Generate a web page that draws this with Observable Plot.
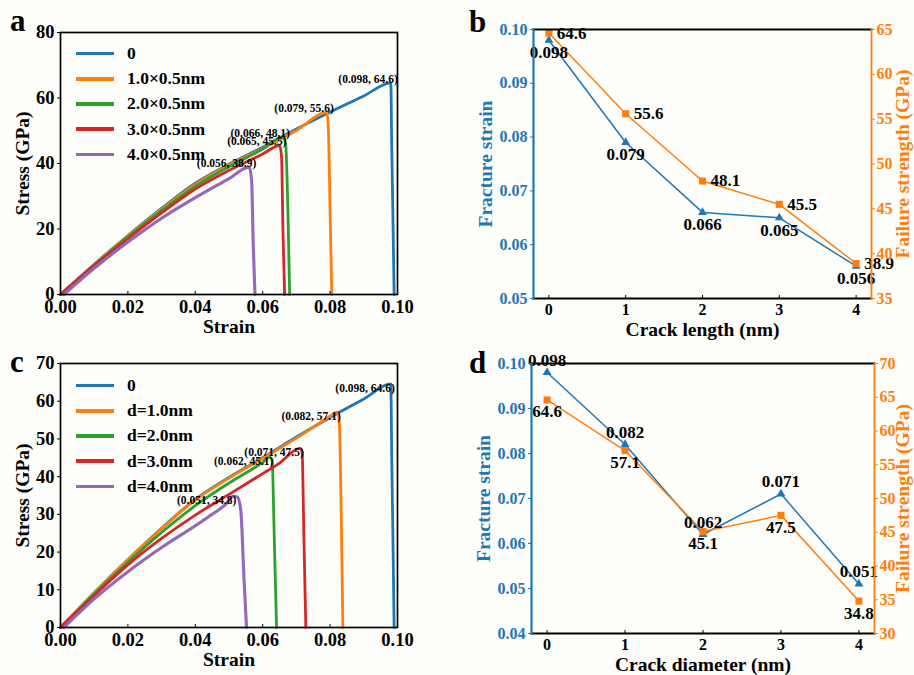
<!DOCTYPE html>
<html>
<head>
<meta charset="utf-8">
<script src="https://cdn.jsdelivr.net/npm/d3@7"></script>
<script src="https://cdn.jsdelivr.net/npm/@observablehq/plot@0.6"></script>
<style>
  html, body { margin: 0; padding: 0; background: #fdfdf9; }
  #fig { position: relative; width: 914px; height: 675px; overflow: hidden;
         font-family: "Liberation Serif", "Times New Roman", serif; font-weight: bold; color: #000; }
  .panel { position: absolute; }
  .panel svg { overflow: visible; }
  .letter { position: absolute; font-size: 31px; line-height: 30px; }
  .legend { position: absolute; font-size: 17.5px; }
  .legend .row { display: flex; align-items: center; height: 25.2px; white-space: nowrap; }
  .legend .sw { width: 38px; height: 3.5px; margin-right: 13px; }
  g[aria-label="x-axis label"], g[aria-label="y-axis label"] { font-size: 19.5px; }
</style>
</head>
<body>
<div id="fig"></div>
<script>
// ---- colours ----
const blue = "#1f77b4", orange = "#ff7f0e", green = "#2ca02c", red = "#d62728", purple = "#9467bd";
const curveColors = [blue, orange, green, red, purple];

// ---- shared ticks ----
const strainTicks = [0, 0.02, 0.04, 0.06, 0.08, 0.10];
const stressTicksA = [0, 20, 40, 60, 80];
const stressTicksC = [0, 10, 20, 30, 40, 50, 60, 70];

// ---- (a) rectangular cracks ----
const seriesA = ["0", "1.0×0.5nm", "2.0×0.5nm", "3.0×0.5nm", "4.0×0.5nm"];
const crackLength = [0, 1, 2, 3, 4];
const fractureStrainA = [0.098, 0.079, 0.066, 0.065, 0.056];
const failureStrengthA = [64.6, 55.6, 48.1, 45.5, 38.9];

// loading branch up to the peak, [strain, stress in GPa]
const rise0 = [[0, 0], [0.005, 4.6], [0.01, 9.2], [0.02, 18], [0.03, 26.3], [0.04, 34], [0.05, 39.8], [0.06, 45], [0.07, 50.5], [0.08, 55.7], [0.09, 60.6]];
const drop0 = [[0.0983, 45], [0.0987, 20], [0.099, 0]];
const riseA1 = [[0, 0], [0.01, 9.1], [0.02, 17.8], [0.03, 26], [0.04, 33.6], [0.05, 39.5], [0.06, 44.6], [0.07, 50.1]];
const dropA1 = [[0.0795, 50], [0.080, 25], [0.0805, 0]];
const riseA2 = [[0, 0], [0.01, 9], [0.02, 17.5], [0.03, 25.6], [0.04, 33], [0.05, 39], [0.06, 44.4]];
const dropA2 = [[0.0668, 46], [0.0675, 25], [0.068, 0]];
const riseA3 = [[0, 0], [0.01, 8.8], [0.02, 17], [0.03, 24.9], [0.04, 32.2], [0.05, 37.9], [0.06, 42.9]];
const dropA3 = [[0.0656, 42], [0.066, 20], [0.0665, 0]];
const riseA4 = [[0.001, 0], [0.01, 8], [0.02, 16], [0.03, 23.3], [0.04, 29.6], [0.05, 35.4]];
const dropA4 = [[0.0567, 35], [0.0572, 15], [0.0577, 0]];

// ---- (c) circular holes ----
const seriesC = ["0", "d=1.0nm", "d=2.0nm", "d=3.0nm", "d=4.0nm"];
const crackDiameter = [0, 1, 2, 3, 4];
const fractureStrainC = [0.098, 0.082, 0.062, 0.071, 0.051];
const failureStrengthC = [64.6, 57.1, 45.1, 47.5, 34.8];

const riseC1 = [[0, 0], [0.01, 9.2], [0.02, 18], [0.03, 26.2], [0.04, 33.8], [0.05, 39.6], [0.06, 44.8], [0.07, 50.2], [0.08, 56]];
const dropC1 = [[0.0827, 55], [0.0833, 30], [0.0838, 0]];
const riseC2 = [[0, 0], [0.01, 8.9], [0.02, 17.3], [0.03, 25.2], [0.04, 32.3], [0.05, 38.3], [0.06, 43.8]];
const dropC2 = [[0.0628, 44.5], [0.0634, 25], [0.0641, 0]];
const riseC3 = [[0, 0], [0.01, 8.5], [0.02, 16.6], [0.03, 23.6], [0.04, 29.8], [0.05, 35.3], [0.06, 40.8], [0.065, 43.6]];
const dropC3 = [[0.0717, 46.5], [0.0722, 25], [0.0728, 0]];
const riseC4 = [[0.001, 0], [0.01, 7.6], [0.02, 14.8], [0.03, 21.2], [0.04, 27], [0.045, 30], [0.05, 33.6]];
const dropC4 = [[0.0525, 34.6], [0.0535, 31], [0.0545, 12], [0.0552, 0]];

// tick values of the twin-axis panels
const strainTicksB = [0.05, 0.06, 0.07, 0.08, 0.09, 0.10];
const strengthTicksB = [35, 40, 45, 50, 55, 60, 65];
const strainTicksD = [0.04, 0.05, 0.06, 0.07, 0.08, 0.09, 0.10];
const strengthTicksD = [30, 35, 40, 45, 50, 55, 60, 65, 70];

// ---------------------------------------------------------------
const FONT = '"Liberation Serif", "Times New Roman", serif';

function curveRows(names, rises, drops, peakX, peakY) {
  const rows = [];
  names.forEach((name, i) => {
    const pts = [...rises[i], [peakX[i], peakY[i]], ...drops[i]];
    pts.forEach(([s, t]) => rows.push({series: name, strain: s, stress: t}));
  });
  return rows;
}

function peakRows(names, peakX, peakY) {
  return names.map((n, i) => ({series: n, strain: peakX[i], stress: peakY[i]}));
}

function styleOf(size) {
  return {background: "transparent", fontFamily: FONT, fontWeight: "bold", fontSize: size, color: "#000", overflow: "visible"};
}

function stressStrainPlot(opts) {
  const {names, rows, peaks, yMax, yTicks, height, marginTop, marginBottom, labelDx, labelDy} = opts;
  return Plot.plot({
    width: 457, height, marginLeft: 60, marginRight: 60, marginTop, marginBottom,
    style: styleOf("18.5px"),
    x: {domain: [0, 0.1]},
    y: {domain: [0, yMax]},
    marks: [
      ...names.map((n, i) => Plot.line(rows.filter(r => r.series === n), {
        x: "strain", y: "stress", stroke: curveColors[i], strokeWidth: i === 4 ? 3.1 : 2.8, curve: "monotone-x"
      })),
      Plot.text(peaks, {
        x: "strain", y: "stress",
        text: d => `(${d.strain.toFixed(3)}, ${d.stress.toFixed(1)})`,
        textAnchor: "end", dx: labelDx, dy: labelDy, fontSize: 11.5, fill: "#000"
      }),
      Plot.frame({stroke: "#000", strokeWidth: 1.7}),
      Plot.axisX(strainTicks, {tickFormat: d3.format(".2f"), tickSize: -3, tickPadding: 8,
        label: "Strain", labelAnchor: "center", labelOffset: 38, labelArrow: "none"}),
      Plot.axisY(yTicks, {tickSize: 3, tickPadding: 3,
        label: "Stress (GPa)", labelAnchor: "center", labelOffset: 45, labelArrow: "none"})
    ]
  });
}

function twinPlot(opts) {
  const {xs, strain, strength, toLeft, yDomain, leftTicks, rightTicks, xLabel,
         height, marginLeft, marginRight, marginTop, marginBottom, strainDy, strengthDx, strengthDy, strengthAnchor, rightLabelOffset} = opts;
  const rows = xs.map((x, i) => ({x, strain: strain[i], strength: strength[i]}));
  const yStrength = d => toLeft(d.strength);
  return Plot.plot({
    width: 457, height, marginLeft, marginRight, marginTop, marginBottom,
    style: styleOf("16px"),
    x: {domain: [-0.2, 4.2]},
    y: {domain: yDomain},
    marks: [
      Plot.line(rows, {x: "x", y: "strain", stroke: blue, strokeWidth: 1.5}),
      Plot.dot(rows, {x: "x", y: "strain", symbol: "triangle", fill: blue, r: 3.3}),
      Plot.line(rows, {x: "x", y: yStrength, stroke: orange, strokeWidth: 1.5}),
      Plot.dot(rows, {x: "x", y: yStrength, symbol: "square", fill: orange, r: 4}),
      Plot.text(rows, {x: "x", y: "strain", text: d => d.strain.toFixed(3), dy: strainDy, fontSize: 17, fill: "#000"}),
      Plot.text(rows, {x: "x", y: yStrength, text: d => d.strength.toFixed(1), textAnchor: strengthAnchor,
        dx: strengthDx, dy: strengthDy, fontSize: 17, fill: "#000"}),
      Plot.frame({anchor: "top", stroke: "#000", strokeWidth: 1.8}),
      Plot.frame({anchor: "bottom", stroke: "#000", strokeWidth: 1.8}),
      Plot.frame({anchor: "left", stroke: blue, strokeWidth: 2.2}),
      Plot.frame({anchor: "right", stroke: orange, strokeWidth: 1.8}),
      Plot.axisX(xs, {tickSize: -3, tickPadding: 8, tickFormat: d => String(d),
        label: xLabel, labelAnchor: "center", labelOffset: 37, labelArrow: "none"}),
      Plot.axisY(leftTicks, {anchor: "left", color: blue, tickFormat: d3.format(".2f"), tickSize: 3, tickPadding: 3,
        label: "Fracture strain", labelAnchor: "center", labelOffset: 55, labelArrow: "none"}),
      Plot.axisY(rightTicks.map(toLeft), {anchor: "right", color: orange,
        tickFormat: d => String(Math.round(toLeft.invert(d))), tickSize: 3, tickPadding: 2,
        label: "Failure strength (GPa)", labelAnchor: "center", labelOffset: rightLabelOffset, labelArrow: "none"})
    ]
  });
}

// ---------------------------------------------------------------
const fig = document.getElementById("fig");

function place(node, left, top) {
  const div = document.createElement("div");
  div.className = "panel";
  div.style.left = left + "px";
  div.style.top = top + "px";
  div.appendChild(node);
  fig.appendChild(div);
  return div;
}

function letter(txt, left, top) {
  const d = document.createElement("div");
  d.className = "letter";
  d.textContent = txt;
  d.style.left = left + "px";
  d.style.top = top + "px";
  fig.appendChild(d);
}

function legend(names, left, top) {
  const box = document.createElement("div");
  box.className = "legend";
  box.style.left = left + "px";
  box.style.top = top + "px";
  names.forEach((n, i) => {
    const row = document.createElement("div");
    row.className = "row";
    const sw = document.createElement("span");
    sw.className = "sw";
    sw.style.background = curveColors[i];
    const tx = document.createElement("span");
    tx.textContent = n;
    row.appendChild(sw);
    row.appendChild(tx);
    box.appendChild(row);
  });
  fig.appendChild(box);
}

// (a)
const rowsA = curveRows(seriesA, [rise0, riseA1, riseA2, riseA3, riseA4], [drop0, dropA1, dropA2, dropA3, dropA4], fractureStrainA, failureStrengthA);
place(stressStrainPlot({
  names: seriesA, rows: rowsA, peaks: peakRows(seriesA, fractureStrainA, failureStrengthA),
  yMax: 80, yTicks: stressTicksA, height: 340, marginTop: 32, marginBottom: 46, labelDx: 7, labelDy: -4
}), 0, 0);
legend(seriesA, 76, 41);

// (b)
place(twinPlot({
  xs: crackLength, strain: fractureStrainA, strength: failureStrengthA,
  toLeft: d3.scaleLinear([35, 65], [0.05, 0.10]), yDomain: [0.05, 0.10],
  leftTicks: strainTicksB, rightTicks: strengthTicksB, xLabel: "Crack length (nm)",
  height: 340, marginLeft: 76, marginRight: 43, marginTop: 29, marginBottom: 42,
  strainDy: 12.5, strengthDx: 8, strengthDy: 0, strengthAnchor: "start", rightLabelOffset: 37
}), 457, 0);

// (c)
const rowsC = curveRows(seriesC, [rise0, riseC1, riseC2, riseC3, riseC4], [drop0, dropC1, dropC2, dropC3, dropC4], fractureStrainC, failureStrengthC);
place(stressStrainPlot({
  names: seriesC, rows: rowsC, peaks: peakRows(seriesC, fractureStrainC, failureStrengthC),
  yMax: 70, yTicks: stressTicksC, height: 345, marginTop: 33, marginBottom: 48, labelDx: 4, labelDy: 4
}), 0, 330);
legend(seriesC, 76, 373);

// (d)
place(twinPlot({
  xs: crackDiameter, strain: fractureStrainC, strength: failureStrengthC,
  toLeft: d3.scaleLinear([30, 70], [0.04, 0.10]), yDomain: [0.04, 0.10],
  leftTicks: strainTicksD, rightTicks: strengthTicksD, xLabel: "Crack diameter (nm)",
  height: 335, marginLeft: 74, marginRight: 40, marginTop: 23, marginBottom: 42,
  strainDy: -12, strengthDx: 0, strengthDy: 12, strengthAnchor: "middle", rightLabelOffset: 34
}), 457, 340);

// panel letters
letter("a", 10, 6);
letter("b", 469, 7);
letter("c", 10, 347);
letter("d", 469, 348);
</script>
</body>
</html>
